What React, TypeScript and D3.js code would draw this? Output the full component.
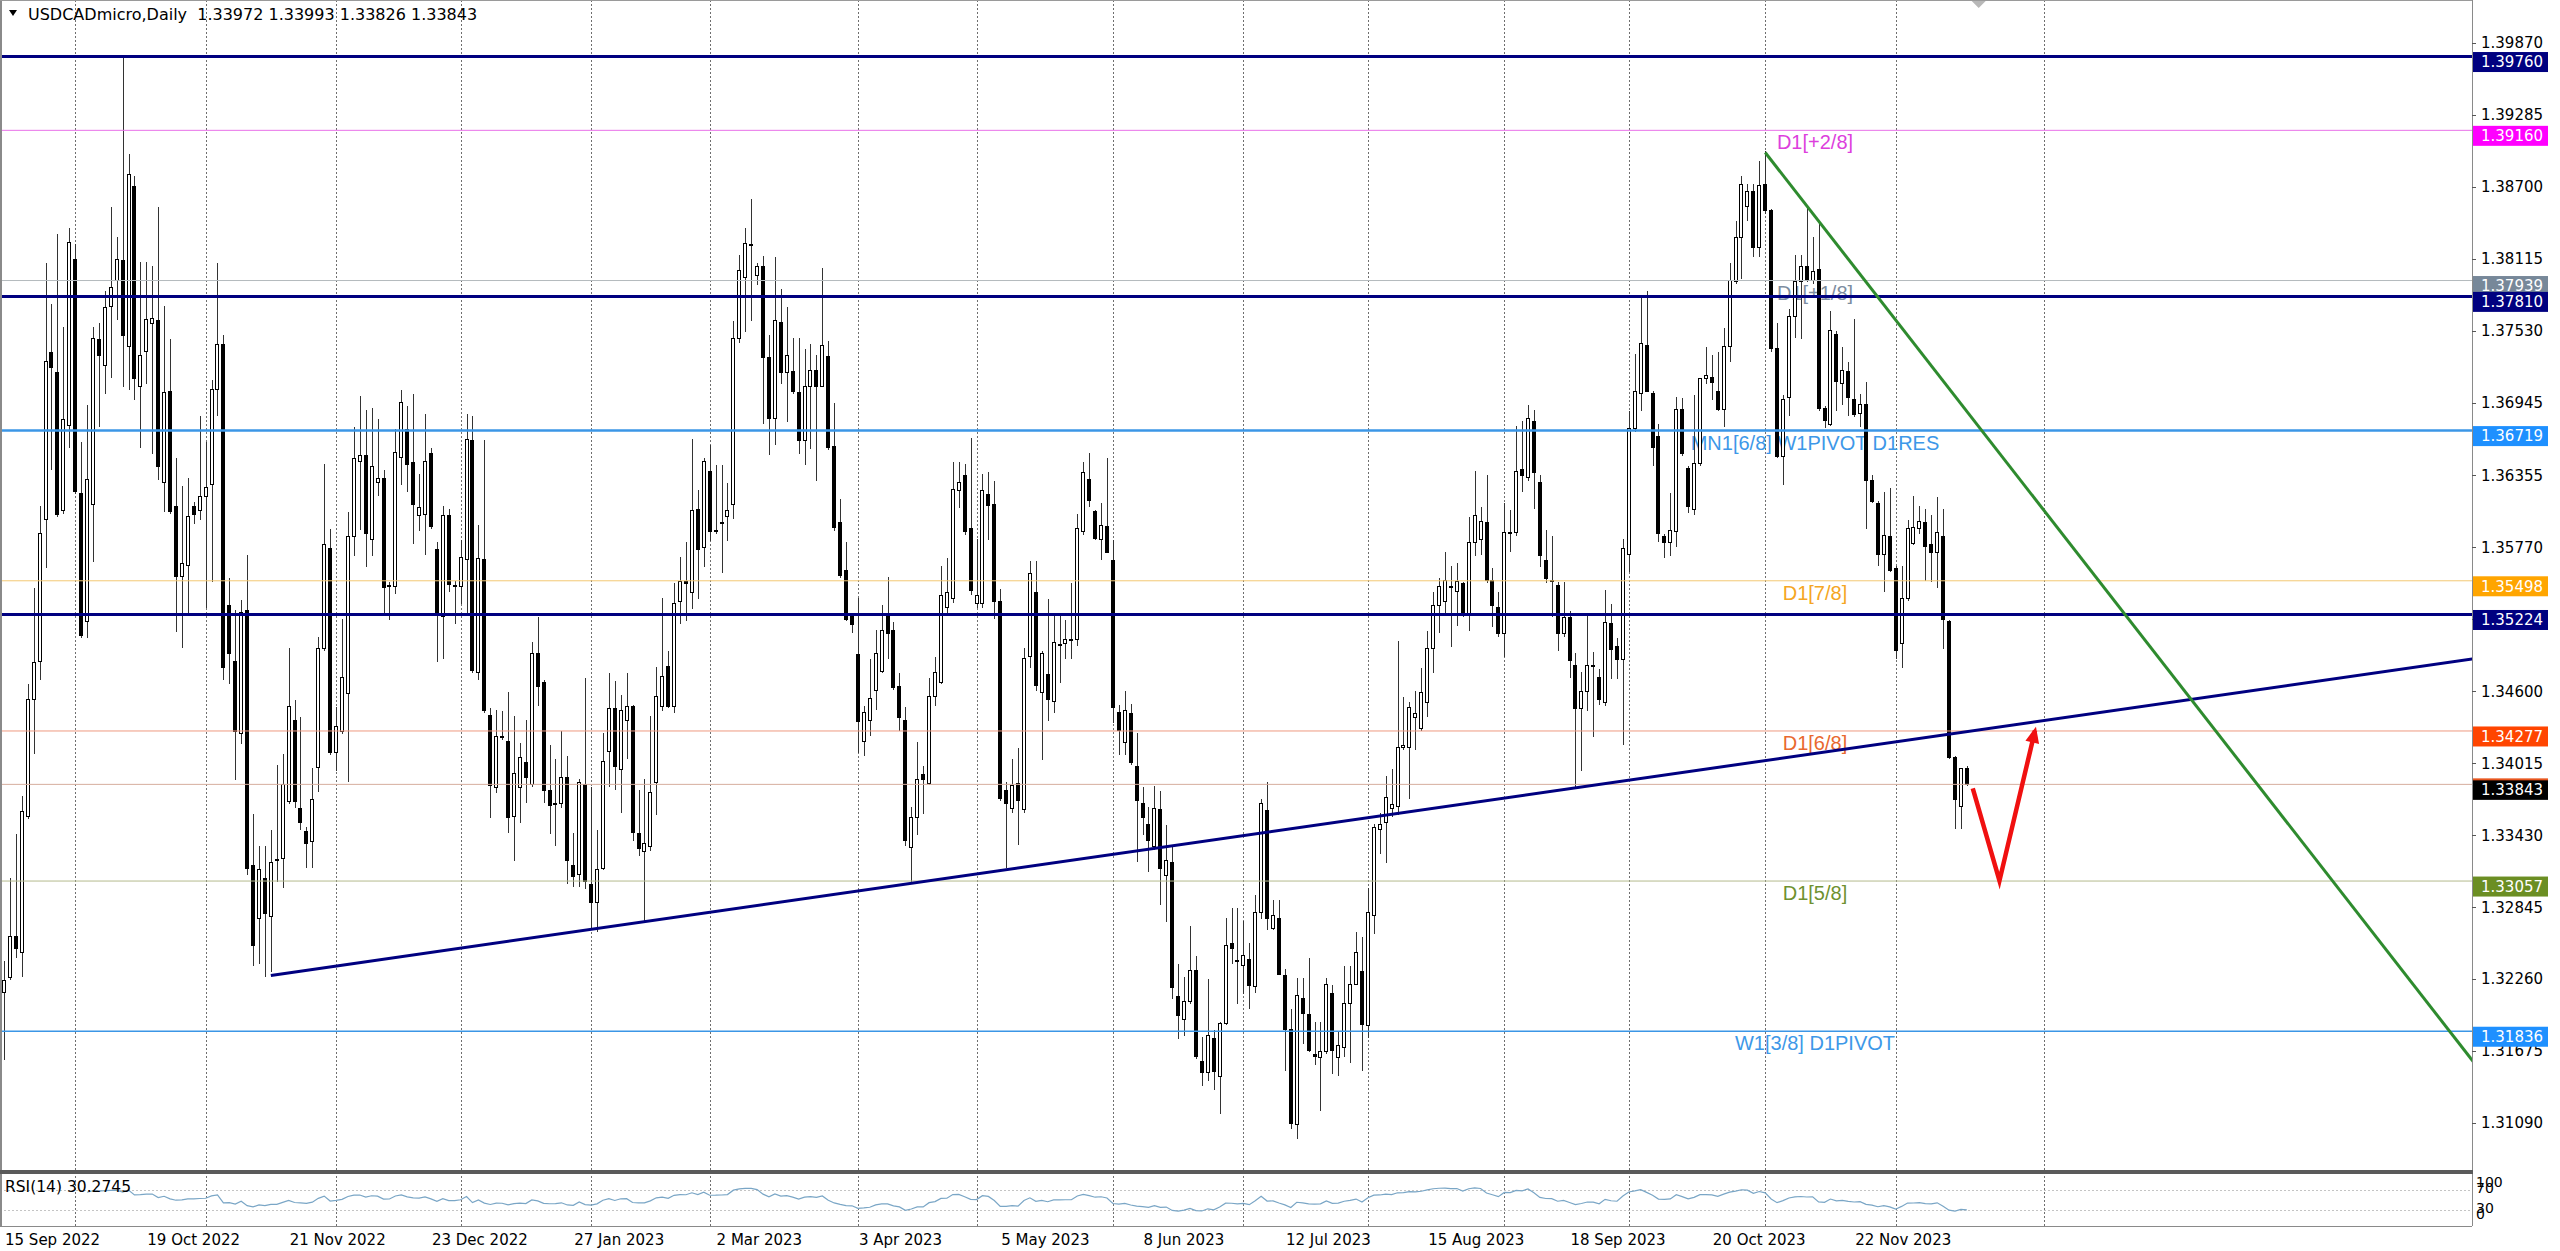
import React from 'react';
import * as d3 from 'd3';

// ---------- DATA ----------
const openP = [
1.3215,1.3227,1.3261,1.3248,1.3358,1.3453,1.3484,1.3600,1.3735,1.3719,
1.3607,1.3676,1.3811,1.3621,1.3517,1.3612,1.3746,1.3725,1.3773,1.3794,
1.3810,1.3740,1.3870,1.3708,1.3736,1.3759,1.3761,1.3630,1.3704,1.3610,
1.3553,1.3562,1.3610,1.3607,1.3618,1.3628,1.3705,1.3742,1.3530,1.3484,
1.3426,1.3526,1.3318,1.3275,1.3308,1.3277,1.3322,1.3324,1.3370,1.3436,
1.3365,1.3346,1.3338,1.3398,1.3495,1.3576,1.3410,1.3427,1.3458,1.3586,
1.3647,1.3652,1.3583,1.3630,1.3633,1.3545,1.3545,1.3650,1.3673,1.3646,
1.3603,1.3604,1.3653,1.3575,1.3521,1.3603,1.3546,1.3545,1.3567,1.3664,
1.3475,1.3567,1.3440,1.3382,1.3423,1.3419,1.3358,1.3382,1.3402,1.3384,
1.3491,1.3467,1.3379,1.3368,1.3369,1.3390,1.3318,1.3311,1.3384,1.3303,
1.3288,1.3316,1.3411,1.3446,1.3396,1.3436,1.3448,1.3344,1.3330,1.3334,
1.3386,1.3448,1.3480,1.3448,1.3533,1.3549,1.3540,1.3608,1.3577,1.3639,
1.3590,1.3596,1.3602,1.3612,1.3747,1.3796,1.3823,1.3798,1.3805,1.3731,
1.3682,1.3760,1.3719,1.3720,1.3703,1.3664,1.3708,1.3721,1.3708,1.3732,
1.3659,1.3597,1.3558,1.3521,1.3490,1.3419,1.3436,1.3461,1.3476,1.3522,
1.3509,1.3464,1.3436,1.3333,1.3357,1.3392,1.3385,1.3456,1.3467,1.3528,
1.3535,1.3623,1.3635,1.3592,1.3531,1.3531,1.3620,1.3612,1.3533,1.3379,
1.3365,1.3385,1.3364,1.3488,1.3540,1.3459,1.3474,1.3452,1.3498,1.3499,
1.3501,1.3502,1.3590,1.3632,1.3606,1.3583,1.3594,1.3566,1.3443,1.3418,
1.3442,1.3399,1.3369,1.3352,1.3334,1.3364,1.3310,1.3321,1.3212,1.3193,
1.3208,1.3233,1.3159,1.3150,1.3178,1.3147,1.3190,1.3255,1.3241,1.3237,
1.3242,1.3220,1.3280,1.3363,1.3267,1.3275,1.3229,1.3185,1.3108,1.3210,
1.3197,1.3165,1.3162,1.3167,1.3214,1.3162,1.3170,1.3206,1.3222,1.3232,
1.3188,1.3278,1.3348,1.3353,1.3365,1.3366,1.3414,1.3414,1.3439,1.3430,
1.3451,1.3495,1.3530,1.3533,1.3545,1.3541,1.3548,1.3523,1.3581,1.3583,
1.3597,1.3550,1.3528,1.3507,1.3589,1.3589,1.3640,1.3634,1.3679,1.3630,
1.3566,1.3550,1.3546,1.3507,1.3520,1.3481,1.3446,1.3460,1.3481,1.3471,
1.3451,1.3515,1.3496,1.3486,1.3571,1.3674,1.3702,1.3741,1.3702,1.3667,
1.3586,1.3581,1.3590,1.3689,1.3641,1.3608,1.3645,1.3714,1.3715,1.3704,
1.3689,1.3740,1.3793,1.3829,1.3854,1.3866,1.3821,1.3872,1.3851,1.3739,
1.3651,1.3699,1.3765,1.3793,1.3805,1.3794,1.3803,1.3690,1.3677,1.3750,
1.3710,1.3720,1.3697,1.3686,1.3693,1.3631,1.3613,1.3571,1.3586,1.3560,
1.3499,1.3535,1.3580,1.3592,1.3597,1.3579,1.3573,1.3586,1.3517,1.3406,
1.3366,1.33972];

const highP = [
1.3241,1.3308,1.3344,1.3375,1.3466,1.3544,1.3611,1.3808,1.3775,1.3832,
1.3756,1.3837,1.3824,1.3663,1.3693,1.3756,1.3759,1.3785,1.3854,1.3829,
1.3976,1.3897,1.3879,1.3809,1.3809,1.3806,1.3854,1.3773,1.3746,1.3650,
1.3627,1.3633,1.3614,1.3684,1.3663,1.3713,1.3808,1.3750,1.3552,1.3526,
1.3534,1.3571,1.3360,1.3334,1.3334,1.3347,1.3400,1.3409,1.3495,1.3453,
1.3439,1.3350,1.3398,1.3504,1.3645,1.3592,1.3447,1.3519,1.3606,1.3675,
1.3700,1.3689,1.3690,1.3681,1.3640,1.3549,1.3673,1.3705,1.3692,1.3702,
1.3637,1.3685,1.3658,1.3581,1.3611,1.3608,1.3550,1.3583,1.3685,1.3684,
1.3595,1.3664,1.3446,1.3445,1.3444,1.3459,1.3440,1.3418,1.3437,1.3500,
1.3520,1.3469,1.3416,1.3405,1.3428,1.3407,1.3345,1.3389,1.3471,1.3382,
1.3347,1.3426,1.3475,1.3468,1.3457,1.3475,1.3449,1.3380,1.3389,1.3440,
1.3480,1.3536,1.3493,1.3548,1.3569,1.3581,1.3665,1.3624,1.3650,1.3660,
1.3644,1.3644,1.3629,1.3761,1.3815,1.3837,1.3860,1.3808,1.3814,1.3750,
1.3813,1.3787,1.3772,1.3747,1.3747,1.3738,1.3742,1.3733,1.3804,1.3745,
1.3694,1.3616,1.3581,1.3524,1.3536,1.3448,1.3486,1.3510,1.3530,1.3553,
1.3516,1.3475,1.3447,1.3366,1.3419,1.3399,1.3471,1.3488,1.3562,1.3568,
1.3646,1.3646,1.3645,1.3666,1.3584,1.3637,1.3638,1.3631,1.3543,1.3386,
1.3405,1.3414,1.3495,1.3566,1.3566,1.3493,1.3535,1.3521,1.3522,1.3518,
1.3548,1.3604,1.3646,1.3654,1.3607,1.3613,1.3650,1.3583,1.3449,1.3460,
1.3450,1.3426,1.3382,1.3366,1.3383,1.3379,1.3351,1.3334,1.3238,1.3228,
1.3269,1.3245,1.3179,1.3226,1.3185,1.3191,1.3276,1.3284,1.3284,1.3273,
1.3255,1.3294,1.3372,1.3386,1.3290,1.3290,1.3234,1.3202,1.3227,1.3227,
1.3243,1.3191,1.3191,1.3227,1.3221,1.3184,1.3237,1.3237,1.3264,1.3260,
1.3300,1.3352,1.3361,1.3391,1.3397,1.3501,1.3455,1.3451,1.3460,1.3479,
1.3509,1.3541,1.3552,1.3573,1.3562,1.3564,1.3549,1.3602,1.3639,1.3610,
1.3636,1.3560,1.3541,1.3613,1.3607,1.3676,1.3680,1.3693,1.3689,1.3636,
1.3591,1.3586,1.3549,1.3549,1.3525,1.3491,1.3476,1.3521,1.3492,1.3478,
1.3542,1.3531,1.3503,1.3584,1.3688,1.3734,1.3780,1.3785,1.3704,1.3677,
1.3588,1.3621,1.3699,1.3698,1.3643,1.3701,1.3715,1.3740,1.3733,1.3736,
1.3755,1.3808,1.3842,1.3879,1.3872,1.3872,1.3891,1.3899,1.3852,1.3759,
1.3701,1.3771,1.3815,1.3815,1.3853,1.3829,1.3841,1.3692,1.3769,1.3753,
1.3740,1.3728,1.3763,1.3702,1.3711,1.3636,1.3615,1.3622,1.3625,1.3562,
1.3562,1.3599,1.3619,1.3611,1.3608,1.3603,1.3618,1.3608,1.3518,1.3407,
1.3398,1.33993];

const lowP = [
1.3160,1.3225,1.3243,1.3228,1.3356,1.3409,1.3469,1.3560,1.3640,1.3602,
1.3604,1.3658,1.3620,1.3503,1.3503,1.3565,1.3675,1.3702,1.3715,1.3762,
1.3707,1.3705,1.3697,1.3658,1.3710,1.3653,1.3632,1.3606,1.3604,1.3508,
1.3495,1.3523,1.3596,1.3599,1.3528,1.3549,1.3684,1.3469,1.3466,1.3388,
1.3417,1.3311,1.3237,1.3238,1.3228,1.3232,1.3305,1.3300,1.3368,1.3365,
1.3347,1.3316,1.3316,1.3378,1.3493,1.3408,1.3395,1.3425,1.3386,1.3570,
1.3591,1.3561,1.3570,1.3619,1.3521,1.3518,1.3539,1.3628,1.3622,1.3580,
1.3590,1.3571,1.3592,1.3484,1.3486,1.3541,1.3515,1.3531,1.3523,1.3475,
1.3469,1.3442,1.3357,1.3377,1.3420,1.3345,1.3322,1.3353,1.3369,1.3382,
1.3448,1.3369,1.3344,1.3334,1.3365,1.3303,1.3301,1.3301,1.3299,1.3266,
1.3264,1.3315,1.3382,1.3380,1.3361,1.3405,1.3338,1.3326,1.3273,1.3330,
1.3359,1.3444,1.3446,1.3442,1.3515,1.3517,1.3527,1.3535,1.3561,1.3582,
1.3588,1.3556,1.3582,1.3600,1.3743,1.3752,1.3761,1.3790,1.3677,1.3652,
1.3660,1.3710,1.3679,1.3702,1.3653,1.3644,1.3657,1.3631,1.3707,1.3656,
1.3590,1.3552,1.3517,1.3507,1.3410,1.3407,1.3424,1.3445,1.3475,1.3486,
1.3461,1.3428,1.3334,1.3303,1.3343,1.3360,1.3384,1.3448,1.3466,1.3524,
1.3532,1.3609,1.3587,1.3538,1.3528,1.3528,1.3583,1.3519,1.3371,1.3316,
1.3361,1.3335,1.3361,1.3479,1.3460,1.3404,1.3436,1.3442,1.3467,1.3486,
1.3486,1.3497,1.3587,1.3610,1.3583,1.3567,1.3572,1.3434,1.3408,1.3408,
1.3400,1.3321,1.3343,1.3313,1.3331,1.3286,1.3272,1.3210,1.3177,1.3180,
1.3206,1.3161,1.3139,1.3143,1.3136,1.3116,1.3189,1.3238,1.3206,1.3214,
1.3202,1.3215,1.3275,1.3266,1.3266,1.3229,1.3151,1.3104,1.3096,1.3173,
1.3167,1.3156,1.3119,1.3165,1.3149,1.3147,1.3163,1.3158,1.3221,1.3151,
1.3178,1.3263,1.3328,1.3320,1.3358,1.3359,1.3412,1.3372,1.3412,1.3428,
1.3439,1.3475,1.3507,1.3523,1.3496,1.3513,1.3520,1.3509,1.3570,1.3571,
1.3548,1.3512,1.3504,1.3488,1.3573,1.3586,1.3622,1.3631,1.3608,1.3561,
1.3548,1.3520,1.3493,1.3504,1.3471,1.3381,1.3395,1.3444,1.3423,1.3449,
1.3448,1.3470,1.3470,1.3416,1.3557,1.3671,1.3688,1.3703,1.3643,1.3581,
1.3568,1.3570,1.3577,1.3651,1.3605,1.3603,1.3643,1.3710,1.3697,1.3688,
1.3675,1.3728,1.3791,1.3795,1.3842,1.3813,1.3813,1.3848,1.3736,1.3650,
1.3628,1.3684,1.3747,1.3746,1.3793,1.3791,1.3688,1.3674,1.3676,1.3688,
1.3693,1.3684,1.3683,1.3675,1.3592,1.3613,1.3562,1.3541,1.3557,1.3486,
1.3479,1.3533,1.3579,1.3588,1.3550,1.3549,1.3544,1.3494,1.3405,1.3348,
1.3348,1.33826];

const closeP = [
1.3225,1.3261,1.3251,1.3362,1.3453,1.3483,1.3588,1.3728,1.3723,1.3604,
1.3681,1.3825,1.3622,1.3505,1.3632,1.3747,1.3733,1.3772,1.3788,1.3811,
1.3749,1.3880,1.3714,1.3733,1.3762,1.3763,1.3643,1.3703,1.3606,1.3553,
1.3564,1.3602,1.3604,1.3618,1.3626,1.3705,1.3742,1.3479,1.3491,1.3427,
1.3524,1.3316,1.3253,1.3315,1.3279,1.3321,1.3323,1.3384,1.3448,1.3370,
1.3353,1.3336,1.3372,1.3495,1.3579,1.3410,1.3431,1.3471,1.3586,1.3649,
1.3652,1.3588,1.3643,1.3633,1.3544,1.3546,1.3654,1.3695,1.3644,1.3612,
1.3609,1.3647,1.3594,1.3522,1.3603,1.3547,1.3545,1.3569,1.3665,1.3477,
1.3568,1.3444,1.3383,1.3423,1.3422,1.3357,1.3393,1.3406,1.3390,1.3491,
1.3464,1.3379,1.3367,1.3369,1.3390,1.3322,1.3309,1.3386,1.3305,1.3288,
1.3315,1.3403,1.3446,1.3399,1.3444,1.3448,1.3345,1.3332,1.3336,1.3378,
1.3456,1.3472,1.3448,1.3531,1.3549,1.3548,1.3607,1.3575,1.3647,1.3590,
1.3591,1.3597,1.3607,1.3747,1.3802,1.3824,1.3822,1.3805,1.3731,1.3682,
1.3761,1.3719,1.3733,1.3704,1.3664,1.3708,1.3721,1.3708,1.3741,1.3658,
1.3593,1.3554,1.3518,1.3514,1.3435,1.3443,1.3454,1.3491,1.3509,1.3507,
1.3463,1.3439,1.3339,1.3357,1.3388,1.3388,1.3456,1.3475,1.3538,1.3540,
1.3624,1.3630,1.3590,1.3542,1.3538,1.3623,1.3611,1.3533,1.3373,1.3369,
1.3383,1.3371,1.3487,1.3556,1.3465,1.3491,1.3453,1.3500,1.3497,1.3502,
1.3502,1.3592,1.3638,1.3615,1.3584,1.3595,1.3573,1.3447,1.3428,1.3444,
1.3402,1.3371,1.3357,1.3339,1.3365,1.3316,1.3322,1.3219,1.3196,1.3208,
1.3233,1.3163,1.3150,1.3180,1.3151,1.3190,1.3253,1.3251,1.3240,1.3245,
1.3221,1.3280,1.3369,1.3275,1.3278,1.3230,1.3185,1.3109,1.3213,1.3198,
1.3168,1.3163,1.3167,1.3222,1.3168,1.3172,1.3206,1.3222,1.3248,1.3189,
1.3280,1.3349,1.3352,1.3374,1.3368,1.3414,1.3416,1.3447,1.3442,1.3459,
1.3495,1.3530,1.3545,1.3550,1.3544,1.3549,1.3523,1.3581,1.3603,1.3598,
1.3550,1.3530,1.3507,1.3589,1.3588,1.3639,1.3635,1.3682,1.3638,1.3570,
1.3552,1.3549,1.3507,1.3520,1.3485,1.3446,1.3460,1.3481,1.3480,1.3453,
1.3516,1.3494,1.3486,1.3576,1.3674,1.3704,1.3743,1.3704,1.3658,1.3588,
1.3581,1.3591,1.3689,1.3653,1.3610,1.3645,1.3714,1.3717,1.3711,1.3689,
1.3740,1.3794,1.3829,1.3872,1.3866,1.3821,1.3871,1.3851,1.3739,1.3651,
1.3697,1.3765,1.3793,1.3805,1.3795,1.3801,1.3690,1.3680,1.3753,1.3712,
1.3721,1.3699,1.3685,1.3693,1.3631,1.3614,1.3571,1.3587,1.3558,1.3493,
1.3535,1.3592,1.3593,1.3598,1.3578,1.3573,1.3589,1.3518,1.3406,1.3372,
1.3397,1.33843];

const dateLabelBars = [1, 25, 49, 73, 97, 121, 145, 169, 193, 217, 241, 265, 289, 313];
const dateLabelText = ['15 Sep 2022', '19 Oct 2022', '21 Nov 2022', '23 Dec 2022', '27 Jan 2023', '2 Mar 2023',
  '3 Apr 2023', '5 May 2023', '8 Jun 2023', '12 Jul 2023', '15 Aug 2023', '18 Sep 2023', '20 Oct 2023', '22 Nov 2023'];
const monthGridBars = [13, 35, 57, 78, 100, 120, 145, 165, 188, 210, 231, 254, 275, 298, 320, 345];

const priceTicks = [1.39870, 1.39285, 1.38700, 1.38115, 1.37530, 1.36945, 1.36355, 1.35770, 1.35185,
  1.34600, 1.34015, 1.33430, 1.32845, 1.32260, 1.31675, 1.31090];

const levelPrices = [1.39760, 1.39160, 1.37939, 1.37810, 1.36719, 1.35498, 1.35224, 1.34277, 1.33843, 1.33057, 1.31836];

const levelTextNames = ['D1[+2/8]', 'D1[+1/8]', 'MN1[6/8] W1PIVOT D1RES', 'D1[7/8]', 'D1[6/8]', 'D1[5/8]', 'W1[3/8] D1PIVOT'];
const levelTextPrices = [1.39160, 1.37939, 1.36719, 1.35498, 1.34277, 1.33057, 1.31836];

const trendUpBars = [46, 418];
const trendUpPrices = [1.3229, 1.34868];
const trendDownBars = [298, 418];
const trendDownPrices = [1.3898, 1.31552];

const arrowBars = [333, 337.5, 343.5];
const arrowPrices = [1.3381, 1.3306, 1.3428];

const rsiLevelValues = [70, 30];
const rsiAxisValues = [100, 70, 30, 0];
const rsiPeriod = 14;
const rsiLabel = 'RSI(14) 30.2745';
const titleText = 'USDCADmicro,Daily  1.33972 1.33993 1.33826 1.33843';

// ---------- STYLES / LAYOUT ----------
const W = 2560, H = 1251;
const PLOT_R = 2472;
const MAIN_B = 1170;
const RSI_T = 1174, RSI_B = 1226;
const AXIS_FONT = '"DejaVu Sans", Verdana, sans-serif';
const OBJ_FONT = '"Liberation Sans", Arial, sans-serif';

const levelStyles = [
  { stroke: '#000080', w: 3, box: '#000080' },
  { stroke: '#e872e8', w: 1, box: '#ff00ff' },
  { stroke: '#b4babd', w: 1, box: '#778899' },
  { stroke: '#000080', w: 3, box: '#000080' },
  { stroke: '#3b96e6', w: 2.5, box: '#1e90ff' },
  { stroke: '#f3c873', w: 1, box: '#ffa500' },
  { stroke: '#000080', w: 3, box: '#000080' },
  { stroke: '#ee9a80', w: 1, box: '#ff4500' },
  { stroke: '#d6ad9d', w: 1, box: '#000000' },
  { stroke: '#b5ba8e', w: 1, box: '#6b8e23' },
  { stroke: '#3b96e6', w: 1.5, box: '#1e90ff' },
];
const levelTextColors = ['#dd3fdd', '#7d8da0', '#3d98e8', '#f5a623', '#e9692f', '#6f9130', '#3d98e8'];
const LABEL_CX = 1815;
const RSI_AXIS_Y = [1182, 1188, 1208, 1214];

function computeRsi(closes: number[], n: number) {
  const out: { bar: number; v: number }[] = [];
  let g = 0, l = 0;
  for (let i = 1; i <= n; i++) {
    const d = closes[i] - closes[i - 1];
    if (d > 0) g += d; else l -= d;
  }
  let ag = g / n, al = l / n;
  out.push({ bar: n + 1, v: al === 0 ? 100 : 100 - 100 / (1 + ag / al) });
  for (let i = n + 1; i < closes.length; i++) {
    const d = closes[i] - closes[i - 1];
    ag = (ag * (n - 1) + (d > 0 ? d : 0)) / n;
    al = (al * (n - 1) + (d < 0 ? -d : 0)) / n;
    out.push({ bar: i + 1, v: al === 0 ? 100 : 100 - 100 / (1 + ag / al) });
  }
  return out;
}

export default function App() {
  const x = d3.scaleLinear().domain([1, 332]).range([4, 4 + 331 * 5.93]);
  const y = d3.scaleLinear().domain([1.31090, 1.39870]).range([1123, 43]);
  const yR = d3.scaleLinear().domain([0, 100]).range([1225, 1175]);

  const bars = openP.map((o, i) => ({ bar: i + 1, o, h: highP[i], l: lowP[i], c: closeP[i] }));
  const rsi = computeRsi(closeP, rsiPeriod);
  const rsiPath = d3.line<{ bar: number; v: number }>().x(d => x(d.bar)).y(d => yR(d.v))(rsi) || '';

  const upPath = d3.line<number>().x((b) => x(b)).y((_, i) => y(trendUpPrices[i]))(trendUpBars) || '';
  const downPath = d3.line<number>().x((b) => x(b)).y((_, i) => y(trendDownPrices[i]))(trendDownBars) || '';
  const arrowXY = arrowBars.map((b, i) => [x(b), y(arrowPrices[i])] as [number, number]);
  const arrowPath = d3.line()(arrowXY) || '';
  const [ax1, ay1] = arrowXY[1];
  const [ax2, ay2] = arrowXY[2];
  const len = Math.hypot(ax2 - ax1, ay2 - ay1);
  const ux = (ax2 - ax1) / len, uy = (ay2 - ay1) / len;
  const tipX = ax2 + ux * 4, tipY = ay2 + uy * 4;
  const baseX = ax2 - ux * 12, baseY = ay2 - uy * 12;
  const head = `${tipX},${tipY} ${baseX - uy * 7},${baseY + ux * 7} ${baseX + uy * 7},${baseY - ux * 7}`;

  return (
    <svg width={W} height={H} viewBox={`0 0 ${W} ${H}`}
      style={{ position: 'absolute', left: 0, top: 0, display: 'block', background: '#fff' }}>
      <defs>
        <clipPath id="mainClip"><rect x={0} y={0} width={PLOT_R} height={MAIN_B} /></clipPath>
        <clipPath id="rsiClip"><rect x={0} y={RSI_T} width={PLOT_R} height={RSI_B - RSI_T} /></clipPath>
      </defs>
      <rect x={0} y={0} width={W} height={H} fill="#fff" />

      {/* vertical month grid */}
      <g stroke="#6e6e6e" strokeWidth={1} strokeDasharray="2,2" shapeRendering="crispEdges">
        {monthGridBars.map(b => {
          const gx = Math.round(x(b)) + 0.5;
          return gx < PLOT_R ? <line key={b} x1={gx} x2={gx} y1={0} y2={RSI_B} /> : null;
        })}
      </g>

      {/* level text objects */}
      <g fontFamily={OBJ_FONT} fontSize={20} textAnchor="middle">
        {levelTextNames.map((t, i) => (
          <text key={t} x={LABEL_CX} y={y(levelTextPrices[i]) + 12} dy="0.35em" fill={levelTextColors[i]}>{t}</text>
        ))}
      </g>

      {/* candles */}
      <g clipPath="url(#mainClip)" shapeRendering="crispEdges">
        {bars.map(d => {
          const px = Math.round(x(d.bar));
          const top = y(Math.max(d.o, d.c));
          const bot = y(Math.min(d.o, d.c));
          const bull = d.c >= d.o;
          return (
            <g key={d.bar}>
              <line x1={px} x2={px} y1={y(d.h)} y2={y(d.l)} stroke="#333" strokeWidth={1} />
              <rect x={px - 1.5} y={top} width={3} height={Math.max(1, bot - top)}
                fill={bull ? '#fff' : '#000'} stroke="#000" strokeWidth={1} />
            </g>
          );
        })}
      </g>

      {/* horizontal levels */}
      <g clipPath="url(#mainClip)">
        {levelPrices.map((p, i) => (
          <line key={p} x1={0} x2={PLOT_R} y1={y(p)} y2={y(p)} stroke={levelStyles[i].stroke} strokeWidth={levelStyles[i].w} />
        ))}
      </g>

      {/* trend lines and arrow */}
      <g clipPath="url(#mainClip)" fill="none">
        <path d={upPath} stroke="#000080" strokeWidth={3} />
        <path d={downPath} stroke="#2e8b2e" strokeWidth={3} />
        <path d={arrowPath} stroke="#f01010" strokeWidth={4.5} strokeLinejoin="miter" />
        <polygon points={head} fill="#f01010" />
      </g>

      {/* shift marker */}
      <polygon points={`${x(334) - 8},0 ${x(334) + 8},0 ${x(334)},8`} fill="#b8b8b8" />

      {/* RSI panel */}
      <g stroke="#c4c4c4" strokeDasharray="2,2" strokeWidth={1} shapeRendering="crispEdges">
        {rsiLevelValues.map(v => (
          <line key={v} x1={0} x2={PLOT_R} y1={Math.round(yR(v)) + 0.5} y2={Math.round(yR(v)) + 0.5} />
        ))}
      </g>
      <path d={rsiPath} fill="none" stroke="#7aa6c6" strokeWidth={1.2} clipPath="url(#rsiClip)" />
      <text x={5} y={1192} fontFamily={AXIS_FONT} fontSize={15.5} fill="#000">{rsiLabel}</text>

      {/* frames */}
      <g fill="none" shapeRendering="crispEdges">
        <line x1={1} x2={1} y1={0} y2={RSI_B} stroke="#8a8a8a" strokeWidth={2} />
        <line x1={0} x2={PLOT_R} y1={0.5} y2={0.5} stroke="#9a9a9a" strokeWidth={1} />
        <line x1={PLOT_R + 0.5} x2={PLOT_R + 0.5} y1={0} y2={RSI_B} stroke="#8a8a8a" strokeWidth={1} />
        <rect x={0} y={MAIN_B} width={PLOT_R + 1} height={4} fill="#5a5a5a" />
        <line x1={0} x2={PLOT_R} y1={RSI_B + 0.5} y2={RSI_B + 0.5} stroke="#8a8a8a" strokeWidth={1} />
      </g>

      {/* price axis */}
      <g fontFamily={AXIS_FONT} fontSize={15} fill="#000">
        {priceTicks.map(v => (
          <g key={v}>
            <line x1={PLOT_R} x2={PLOT_R + 4} y1={Math.round(y(v)) + 0.5} y2={Math.round(y(v)) + 0.5} stroke="#555" />
            <text x={2481} y={y(v)} dy="0.36em">{v.toFixed(5)}</text>
          </g>
        ))}
      </g>
      <g fontFamily={AXIS_FONT} fontSize={15}>
        {levelPrices.map((p, i) => {
          const top = y(p) - 4.5;
          return (
            <g key={p}>
              <rect x={PLOT_R + 1} y={top} width={75} height={20} fill={levelStyles[i].box} />
              <text x={2481} y={top + 10} dy="0.36em" fill="#fff">{p.toFixed(5)}</text>
            </g>
          );
        })}
        <rect x={PLOT_R + 1} y={y(1.33843) - 6} width={75} height={2} fill="#e8561e" />
      </g>

      {/* RSI axis (labels overlap in the original too) */}
      <g fontFamily={AXIS_FONT} fontSize={14} fill="#000">
        {rsiAxisValues.map((v, i) => (
          <text key={v} x={2476} y={RSI_AXIS_Y[i]} dy="0.36em">{v}</text>
        ))}
      </g>

      {/* time axis */}
      <g fontFamily={AXIS_FONT} fontSize={15} fill="#000">
        {dateLabelBars.map((b, i) => (
          <text key={b} x={x(b) + 1} y={1245}>{dateLabelText[i]}</text>
        ))}
      </g>

      {/* title */}
      <polygon points="9,10 17,10 13,16" fill="#000" />
      <text x={28} y={20} fontFamily={AXIS_FONT} fontSize={16} fill="#000" style={{ whiteSpace: 'pre' }}>{titleText}</text>
    </svg>
  );
}
